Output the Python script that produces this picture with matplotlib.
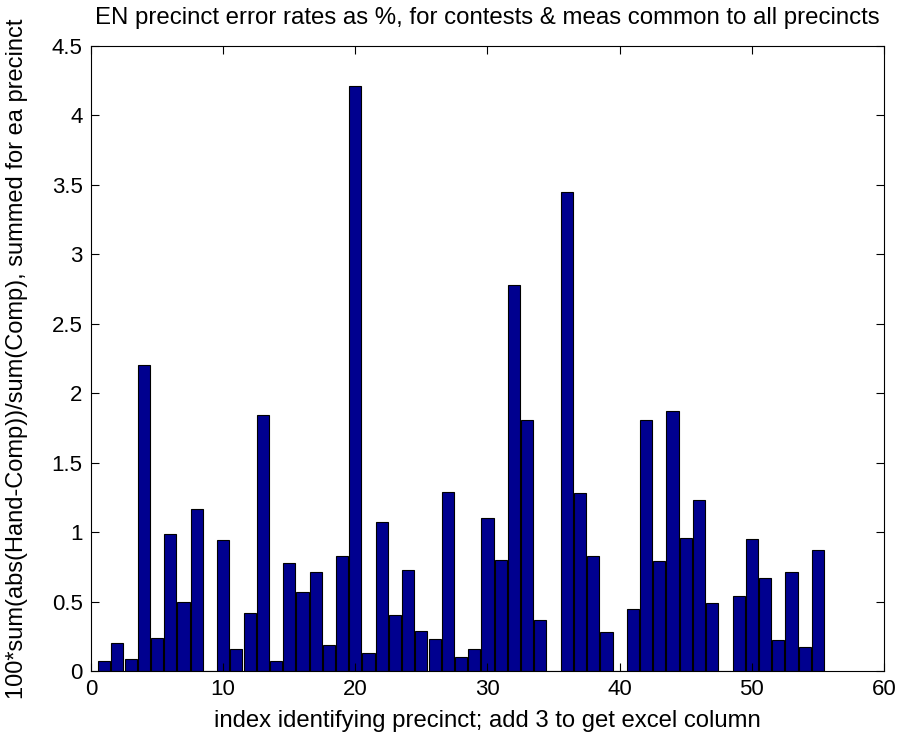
import numpy as np
import matplotlib
matplotlib.use("Agg")
from matplotlib import pyplot as plt

# error rate per precinct (index 1..55)
precinct = np.arange(1, 56)
error_pct = [
    0.07, 0.20, 0.09, 2.20, 0.24, 0.99, 0.50, 1.17, 0.00, 0.94,
    0.16, 0.42, 1.84, 0.07, 0.78, 0.57, 0.71, 0.19, 0.83, 4.21,
    0.13, 1.07, 0.40, 0.73, 0.29, 0.23, 1.29, 0.10, 0.16, 1.10,
    0.80, 2.78, 1.81, 0.37, 0.00, 3.45, 1.28, 0.83, 0.28, 0.00,
    0.45, 1.81, 0.79, 1.87, 0.96, 1.23, 0.49, 0.00, 0.54, 0.95,
    0.67, 0.22, 0.71, 0.17, 0.87,
]
xticks = [0, 10, 20, 30, 40, 50, 60]
yticks = [0, 0.5, 1, 1.5, 2, 2.5, 3, 3.5, 4, 4.5]

plt.rcParams['font.family'] = ['Liberation Sans', 'DejaVu Sans']

fig = plt.figure(figsize=(8.99, 7.40), dpi=100)
ax = fig.add_axes([0.1012, 0.0932, 0.8821, 0.8446])

ax.bar(precinct, error_pct, width=0.92, color=(0, 0, 0.56),
       edgecolor='black', linewidth=0.8)

ax.set_xlim(0, 60)
ax.set_ylim(0, 4.5)
ax.set_xticks(xticks)
ax.set_yticks(yticks)
ax.set_xticklabels([str(t) for t in xticks])
ax.set_yticklabels(['0', '0.5', '1', '1.5', '2', '2.5', '3', '3.5', '4', '4.5'])
ax.tick_params(direction='in', length=6, width=0.8, labelsize=16,
               top=True, right=True, pad=6)
for s in ax.spines.values():
    s.set_linewidth(0.8)

ax.set_title('EN precinct error rates as %, for contests & meas common to all precincts',
             fontsize=17.3, pad=16)
ax.set_xlabel('index identifying precinct; add 3 to get excel column', fontsize=17.2, labelpad=7)
ax.set_ylabel('100*sum(abs(Hand-Comp))/sum(Comp), summed for ea precinct', fontsize=17, labelpad=17)

fig.savefig('out.png', dpi=100)
